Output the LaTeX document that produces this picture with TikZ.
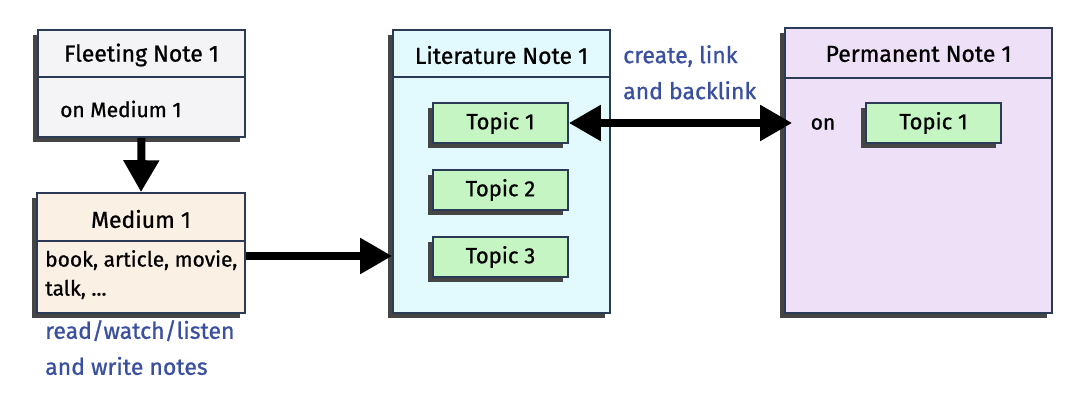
\documentclass[tikz,border=0pt]{standalone}
\usepackage{fontspec}
\setmainfont{Fira Sans}[FakeBold=0.9]
\usetikzlibrary{arrows.meta}
\definecolor{edge}{HTML}{2B3A55}
\definecolor{shade}{HTML}{454545}
\definecolor{fleetfill}{HTML}{F4F4F6}
\definecolor{medfill}{HTML}{FBF0E4}
\definecolor{litfill}{HTML}{E2FAFD}
\definecolor{topicfill}{HTML}{C6F5C4}
\definecolor{permfill}{HTML}{EEE0F6}
\definecolor{labelblue}{HTML}{3A4FA0}
\tikzset{
  card/.style={draw=edge, line width=1.6pt, rectangle, inner sep=0pt,
    preaction={fill=shade, transform canvas={shift={(-5pt,-5pt)}}}},
  topicbox/.style={card, fill=topicfill, minimum width=135pt, minimum height=40pt,
    font=\fontsize{22}{26}\selectfont},
  titletext/.style={font=\fontsize{23}{26}\selectfont, inner sep=0pt},
  bodytext/.style={font=\fontsize{21}{29}\selectfont, inner sep=0pt, align=left},
  bluetext/.style={font=\fontsize{23}{36}\selectfont, text=labelblue, inner sep=0pt, align=left},
  divider/.style={draw=edge, line width=1.3pt},
  arr/.style={line width=8pt, -{Triangle[length=32pt,width=34pt]}},
  dblarr/.style={line width=8pt, {Triangle[length=32pt,width=34pt]}-{Triangle[length=32pt,width=34pt]}},
}
\begin{document}
\begin{tikzpicture}[x=1pt,y=-1pt]
\useasboundingbox (0,0) rectangle (1083,409);
% boxes
\node[card, fill=fleetfill, minimum width=207pt, minimum height=107pt] (fleet) at (141.5,83.5) {};
\node[card, fill=medfill, minimum width=208pt, minimum height=120pt] (medium) at (141,253) {};
\node[card, fill=litfill, minimum width=217pt, minimum height=283pt] (lit) at (501.5,171.5) {};
\node[card, fill=permfill, minimum width=267pt, minimum height=285pt] (perm) at (918.5,170.5) {};
% dividers
\draw[divider] (fleet.west |- 0,77) -- (fleet.east |- 0,77);
\draw[divider] (medium.west |- 0,241) -- (medium.east |- 0,241);
\draw[divider] (lit.west |- 0,77) -- (lit.east |- 0,77);
\draw[divider] (perm.west |- 0,78) -- (perm.east |- 0,78);
% titles
\node[titletext] (fleettitle) at (141.5,55) {Fleeting Note 1};
\node[titletext] (medtitle) at (141,219) {Medium 1};
\node[titletext] (littitle) at (501.5,55) {Literature Note 1};
\node[titletext] (permtitle) at (918.5,54) {Permanent Note 1};
% bodies
\node[bodytext, anchor=west] (fleetbody) at (60,109) {on Medium 1};
\node[bodytext, anchor=north west] (medbody) at (45,250) {book, article, movie,\\talk, ...};
% topics
\node[topicbox] (t1) at (500.5,123) {Topic 1};
\node[topicbox] (t2) at (500.5,190) {Topic 2};
\node[topicbox] (t3) at (500.5,257) {Topic 3};
\node[topicbox] (pt1) at (933.5,123) {Topic 1};
\node[bodytext] (on) at (823,124) {on};
% labels
\node[bluetext, anchor=north west] (lbl1) at (623,45) {create, link\\and backlink};
\node[bluetext, anchor=north west] (lbl2) at (45,320) {read/watch/listen\\and write notes};
% arrows
\draw[arr] (fleet.south) -- (medium.north);
\draw[arr] ([yshift=-3pt]medium.east) -- ([yshift=-3pt]medium.east -| lit.west);
\draw[dblarr] (t1.east) -- ([xshift=8pt]t1.east -| perm.west);
\end{tikzpicture}
\end{document}
